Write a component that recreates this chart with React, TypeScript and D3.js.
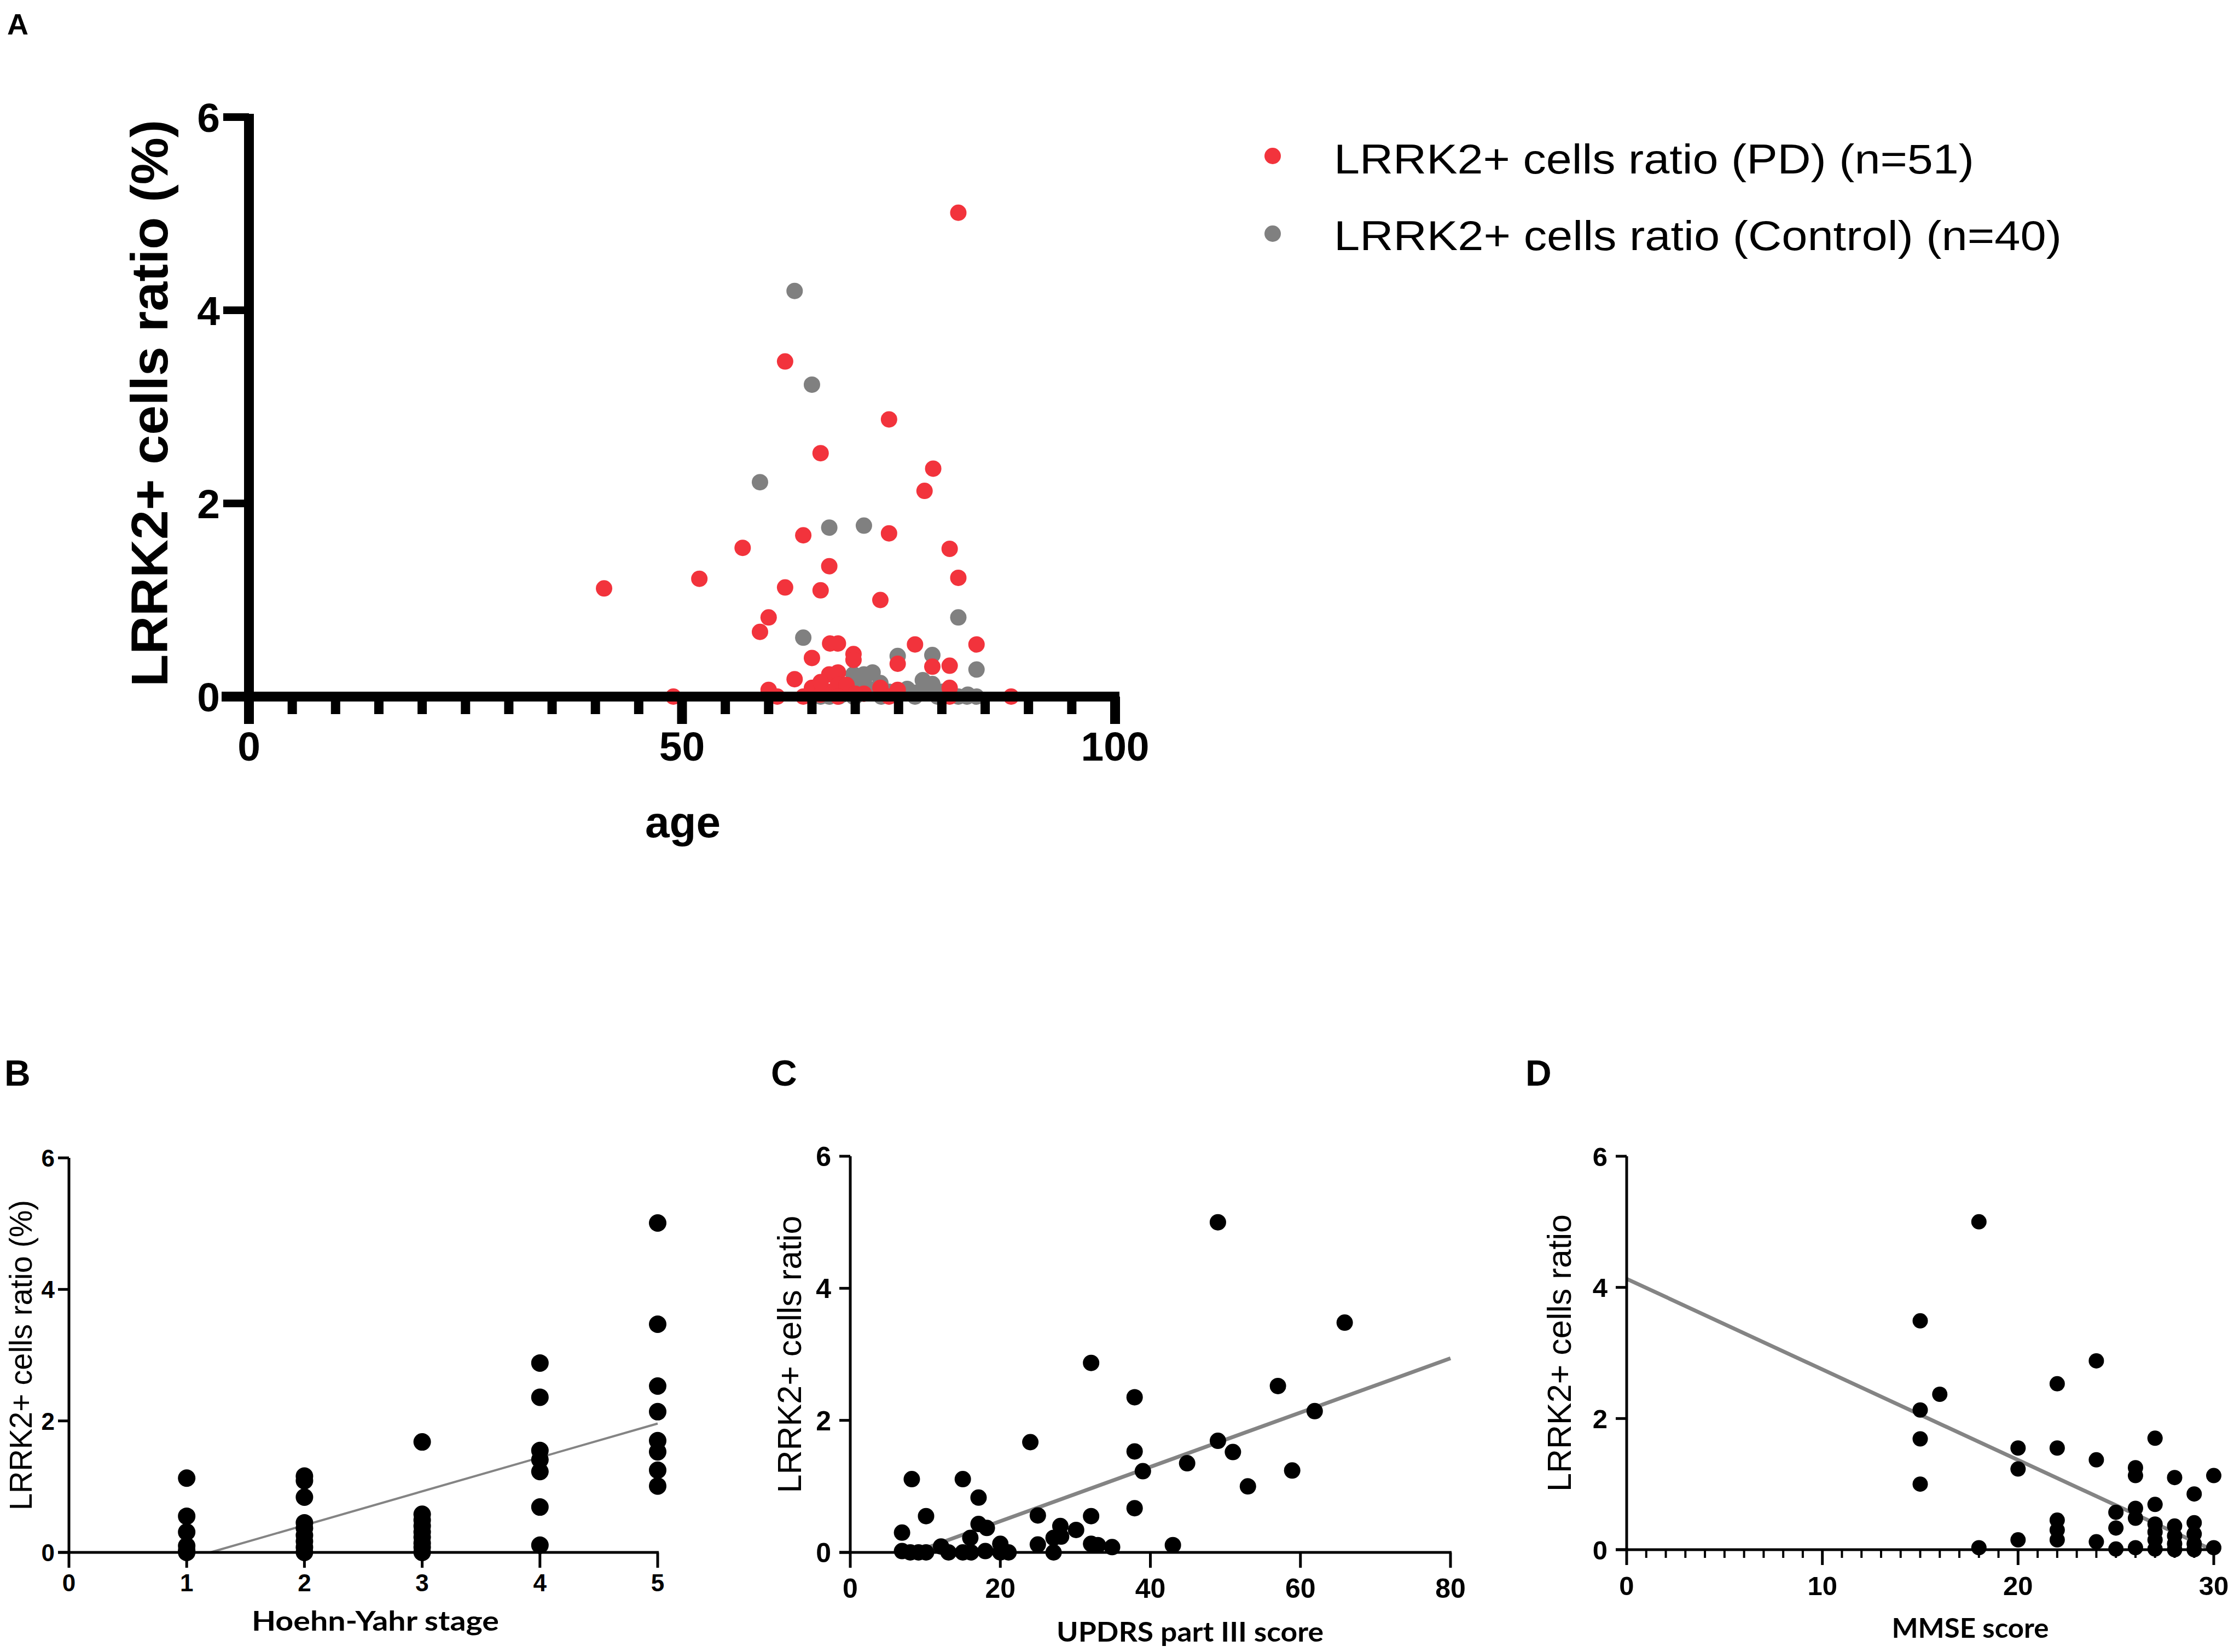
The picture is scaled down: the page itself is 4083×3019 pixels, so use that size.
import React from "react";
import * as d3 from "d3";

// ---- Panel A: age vs LRRK2+ ratio ----
const pdAge = [81.9, 61.9, 73.9, 66.0, 79.0, 78.0, 64.0, 73.9, 57.0, 80.9, 67.0, 52.0, 81.9, 41.0, 61.9, 66.0, 72.9, 60.0, 59.0, 67.1, 68.0, 84.0, 76.9, 65.0, 69.8, 69.8, 74.9, 78.9, 80.9, 63.0, 67.0, 68.0, 60.0, 61.0, 49.0, 88.0, 64.0, 65.0, 66.0, 67.0, 68.0, 69.0, 71.0, 72.9, 73.9, 74.9, 80.9, 80.9, 66.0, 68.0, 70.0];
const pdRatio = [5.01, 3.47, 2.87, 2.52, 2.36, 2.13, 1.67, 1.69, 1.54, 1.53, 1.35, 1.22, 1.23, 1.12, 1.13, 1.1, 1.0, 0.82, 0.67, 0.55, 0.55, 0.54, 0.54, 0.4, 0.44, 0.38, 0.34, 0.31, 0.32, 0.18, 0.23, 0.25, 0.07, 0.0, 0.0, 0.0, 0.0, 0.09, 0.02, 0.05, 0.12, 0.12, 0.03, 0.09, 0.0, 0.07, 0.09, 0.0, 0.15, 0.0, 0.03];
const ctrlAge = [63.0, 65.0, 59.0, 67.0, 71.0, 81.9, 64.0, 74.9, 78.9, 84.0, 69.8, 71.0, 72.0, 71.0, 72.9, 77.8, 78.9, 84.0, 81.9, 76.9, 75.9, 69.0, 72.0, 73.9, 67.0, 68.1, 80.0, 82.9, 78.0, 69.8, 70.5, 66.0, 68.5, 73.0, 75.0, 77.0, 79.5, 83.0, 70.0, 76.0];
const ctrlRatio = [4.2, 3.23, 2.22, 1.75, 1.77, 0.82, 0.61, 0.42, 0.43, 0.28, 0.23, 0.23, 0.25, 0.16, 0.14, 0.17, 0.13, 0.0, 0.0, 0.0, 0.05, 0.05, 0.07, 0.05, 0.0, 0.0, 0.05, 0.0, 0.09, 0.0, 0.1, 0.0, 0.02, 0.0, 0.02, 0.04, 0.0, 0.02, 0.0, 0.08];
const legendLabels = ["LRRK2+ cells ratio (PD) (n=51)", "LRRK2+ cells ratio (Control) (n=40)"];

// ---- Panel B: Hoehn-Yahr stage ----
const hyStage = [1, 1, 1, 1, 1, 1, 2, 2, 2, 2, 2, 2, 2, 2, 2, 3, 3, 3, 3, 3, 3, 3, 3, 3, 4, 4, 4, 4, 4, 4, 4, 5, 5, 5, 5, 5, 5, 5, 5];
const hyRatio = [1.13, 0.55, 0.31, 0.1, 0.03, 0, 1.16, 1.09, 0.84, 0.45, 0.37, 0.26, 0.17, 0.08, 0, 1.68, 0.58, 0.49, 0.4, 0.31, 0.23, 0.14, 0.08, 0, 2.88, 2.36, 1.55, 1.41, 1.23, 0.69, 0.11, 5.01, 3.47, 2.53, 2.14, 1.7, 1.53, 1.25, 1.01];
const hyFit: [number, number][] = [[1.2, 0], [5, 1.96]];

// ---- Panel C: UPDRS part III ----
const updrsScore = [6.9, 8.2, 6.9, 8, 9.1, 10.1, 10.1, 12.1, 13.1, 15, 15, 16, 16.1, 17.1, 17.1, 18.2, 18, 20, 20, 21.1, 24, 25, 25, 27.1, 27.1, 28, 28.1, 30.1, 32.1, 32.1, 32.1, 33, 34.9, 37.9, 37.9, 37.9, 39, 43, 44.9, 49, 49, 51, 53, 57, 58.9, 61.9, 65.9];
const updrsRatio = [0.3, 1.11, 0.02, 0, 0, 0, 0.55, 0.09, 0, 1.11, 0, 0.22, 0, 0.83, 0.43, 0.37, 0.02, 0.13, 0, 0, 1.67, 0.56, 0.12, 0.22, 0, 0.4, 0.24, 0.34, 2.87, 0.55, 0.13, 0.11, 0.08, 2.35, 1.53, 0.67, 1.23, 0.11, 1.35, 5.0, 1.69, 1.52, 1.0, 2.52, 1.24, 2.14, 3.48];
const updrsFit: [number, number][] = [[8.5, 0], [80, 2.94]];

// ---- Panel D: MMSE ----
const mmseScore = [18, 15, 16, 15, 15, 15, 18, 20, 20, 20, 22, 22, 22, 22, 22, 24, 24, 24, 25, 25, 25, 26, 26, 26, 26, 26, 27, 27, 27, 27, 27, 27, 28, 28, 28, 28, 28, 29, 29, 29, 29, 29, 30, 30];
const mmseRatio = [5.0, 3.49, 2.37, 2.13, 1.69, 1.0, 0.03, 1.55, 1.23, 0.15, 2.53, 1.55, 0.45, 0.3, 0.15, 2.88, 1.37, 0.12, 0.57, 0.33, 0.01, 1.25, 1.13, 0.63, 0.48, 0.03, 1.7, 0.69, 0.39, 0.27, 0.15, 0.01, 1.1, 0.36, 0.21, 0.09, 0, 0.85, 0.41, 0.24, 0.09, 0, 1.13, 0.03];
const mmseFit: [number, number][] = [[0, 4.13], [29.9, 0]];

const yTicks = [0, 2, 4, 6];

const ARIAL = "'Liberation Sans', Arial, sans-serif";
const TITLE = "Lato, 'Open Sans', sans-serif";
const RED = "#f2333c";
const GREY = "#808080";

type SmallProps = {
  xs: number[];
  ys: number[];
  fit: [number, number][];
  xDomain: [number, number];
  xRange: [number, number];
  yRange: [number, number];
  xTicks: number[];
  minorTicks?: number[];
  r: number;
  fitWidth: number;
  tickFont: number;
  tickWeight: number;
  tickBase: number;
  yLabelRight: number;
  yTitle: string;
  yTitleX: number;
  yTitleSize: number;
  yTitleLen: number;
  xTitle: string;
  xTitleX: number;
  xTitleY: number;
  xTitleLen: number;
};

function SmallPanel(p: SmallProps) {
  const x = d3.scaleLinear().domain(p.xDomain).range(p.xRange);
  const y = d3.scaleLinear().domain([0, 6]).range(p.yRange);
  const line = d3.line<[number, number]>().x((d) => x(d[0])).y((d) => y(d[1]));
  const x0 = x(p.xDomain[0]);
  const y0 = y(0);
  const midY = (y(0) + y(6)) / 2;
  return (
    <g>
      <path d={line(p.fit) || ""} stroke="#848484" strokeWidth={p.fitWidth} fill="none" />
      {p.xs.map((v, i) => (
        <circle key={i} cx={x(v)} cy={y(p.ys[i])} r={p.r} fill="#000" />
      ))}
      <line x1={x0} x2={x0} y1={y(6)} y2={y0} stroke="#000" strokeWidth={5} />
      <line x1={x0 - 20} x2={x(p.xDomain[1]) + 2} y1={y0} y2={y0} stroke="#000" strokeWidth={5} />
      {(p.minorTicks || []).map((t) => (
        <line key={"m" + t} x1={x(t)} x2={x(t)} y1={y0} y2={y0 + 15} stroke="#000" strokeWidth={4} />
      ))}
      {p.xTicks.map((t) => (
        <g key={"x" + t}>
          <line x1={x(t)} x2={x(t)} y1={y0} y2={y0 + 28} stroke="#000" strokeWidth={5} />
          <text x={x(t)} y={p.tickBase} textAnchor="middle" fontFamily={ARIAL} fontSize={p.tickFont} fontWeight={p.tickWeight}>
            {t}
          </text>
        </g>
      ))}
      {yTicks.map((t) => (
        <g key={"y" + t}>
          <line x1={x0} x2={x0 - 20} y1={y(t)} y2={y(t)} stroke="#000" strokeWidth={5} />
          <text x={p.yLabelRight} y={y(t) + p.tickFont * 0.36} textAnchor="end" fontFamily={ARIAL} fontSize={p.tickFont} fontWeight={p.tickWeight}>
            {t}
          </text>
        </g>
      ))}
      <text
        transform={`translate(${p.yTitleX},${midY}) rotate(-90)`}
        textAnchor="middle"
        fontFamily={ARIAL}
        fontSize={p.yTitleSize}
        textLength={p.yTitleLen}
        lengthAdjust="spacingAndGlyphs"
      >
        {p.yTitle}
      </text>
      <text
        x={p.xTitleX}
        y={p.xTitleY}
        textAnchor="middle"
        fontFamily={TITLE}
        fontWeight={700}
        fontSize={50}
        textLength={p.xTitleLen}
        lengthAdjust="spacingAndGlyphs"
      >
        {p.xTitle}
      </text>
    </g>
  );
}

function PanelA() {
  const x = d3.scaleLinear().domain([0, 100]).range([455, 2038]);
  const y = d3.scaleLinear().domain([0, 6]).range([1273, 214]);
  const y0 = y(0);
  return (
    <g>
      {ctrlAge.map((a, i) => (
        <circle key={"c" + i} cx={x(a)} cy={y(ctrlRatio[i])} r={15} fill={GREY} />
      ))}
      {pdAge.map((a, i) => (
        <circle key={"p" + i} cx={x(a)} cy={y(pdRatio[i])} r={15} fill={RED} />
      ))}
      <line x1={x(0)} x2={x(0)} y1={y(6) - 6} y2={y0 + 9} stroke="#000" strokeWidth={18} />
      <line x1={x(0) - 50} x2={x(100) + 8} y1={y0} y2={y0} stroke="#000" strokeWidth={18} />
      {d3.range(0, 101, 5).map((t) => (
        <line
          key={"xt" + t}
          x1={x(t)}
          x2={x(t)}
          y1={y0}
          y2={y0 + (t % 50 === 0 ? 50 : 32)}
          stroke="#000"
          strokeWidth={t % 50 === 0 ? 18 : 17}
        />
      ))}
      {[0, 50, 100].map((t) => (
        <text key={"xl" + t} x={x(t)} y={1390} textAnchor="middle" fontFamily={ARIAL} fontWeight={700} fontSize={75}>
          {t}
        </text>
      ))}
      {yTicks.map((t) => (
        <g key={"yt" + t}>
          <line x1={x(0)} x2={x(0) - 47} y1={y(t)} y2={y(t)} stroke="#000" strokeWidth={14} />
          <text x={402} y={y(t) + 27} textAnchor="end" fontFamily={ARIAL} fontWeight={700} fontSize={75}>
            {t}
          </text>
        </g>
      ))}
      <text
        transform={`translate(306,737) rotate(-90)`}
        textAnchor="middle"
        fontFamily={ARIAL}
        fontWeight={700}
        fontSize={95}
        textLength={1036}
        lengthAdjust="spacingAndGlyphs"
      >
        LRRK2+ cells ratio (%)
      </text>
      <text x={1248} y={1530} textAnchor="middle" fontFamily={ARIAL} fontWeight={700} fontSize={80}>
        age
      </text>
      {/* legend */}
      {legendLabels.map((lab, i) => (
        <g key={lab}>
          <circle cx={2326} cy={285 + i * 142} r={15} fill={i === 0 ? RED : GREY} />
          <text
            x={2438}
            y={317 + i * 140}
            fontFamily={ARIAL}
            fontSize={76}
            textLength={i === 0 ? 1170 : 1330}
            lengthAdjust="spacingAndGlyphs"
          >
            {lab}
          </text>
        </g>
      ))}
    </g>
  );
}

export default function App() {
  return (
    <svg
      width={4083}
      height={3019}
      viewBox="0 0 4083 3019"
      style={{ position: "absolute", left: 0, top: 0, background: "#fff" }}
    >
      <rect width={4083} height={3019} fill="#fff" />
      <text x={13} y={63} fontFamily={ARIAL} fontWeight={700} fontSize={54}>A</text>
      <text x={8} y={1984} fontFamily={ARIAL} fontWeight={700} fontSize={66}>B</text>
      <text x={1409} y={1984} fontFamily={ARIAL} fontWeight={700} fontSize={66}>C</text>
      <text x={2788} y={1984} fontFamily={ARIAL} fontWeight={700} fontSize={66}>D</text>
      <PanelA />
      <SmallPanel
        xs={hyStage}
        ys={hyRatio}
        fit={hyFit}
        xDomain={[0, 5]}
        xRange={[126, 1202]}
        yRange={[2837, 2116]}
        xTicks={d3.range(0, 6)}
        r={16}
        fitWidth={4}
        tickFont={44}
        tickWeight={700}
        tickBase={2908}
        yLabelRight={100}
        yTitle="LRRK2+ cells ratio (%)"
        yTitleX={58}
        yTitleSize={57}
        yTitleLen={567}
        xTitle="Hoehn-Yahr stage"
        xTitleX={686}
        xTitleY={2980}
        xTitleLen={452}
      />
      <SmallPanel
        xs={updrsScore}
        ys={updrsRatio}
        fit={updrsFit}
        xDomain={[0, 80]}
        xRange={[1554, 2651]}
        yRange={[2837, 2113]}
        xTicks={d3.range(0, 81, 20)}
        r={15}
        fitWidth={7}
        tickFont={50}
        tickWeight={700}
        tickBase={2920}
        yLabelRight={1519}
        yTitle="LRRK2+ cells ratio"
        yTitleX={1464}
        yTitleSize={61}
        yTitleLen={507}
        xTitle="UPDRS part III score"
        xTitleX={2175}
        xTitleY={3000}
        xTitleLen={488}
      />
      <SmallPanel
        xs={mmseScore}
        ys={mmseRatio}
        fit={mmseFit}
        xDomain={[0, 30]}
        xRange={[2973, 4046]}
        yRange={[2832, 2113]}
        xTicks={d3.range(0, 31, 10)}
        minorTicks={d3.range(1, 30).filter((t) => t % 10 !== 0)}
        r={14}
        fitWidth={7}
        tickFont={49}
        tickWeight={700}
        tickBase={2915}
        yLabelRight={2938}
        yTitle="LRRK2+ cells ratio"
        yTitleX={2871}
        yTitleSize={61}
        yTitleLen={507}
        xTitle="MMSE score"
        xTitleX={3601}
        xTitleY={2993}
        xTitleLen={287}
      />
    </svg>
  );
}
